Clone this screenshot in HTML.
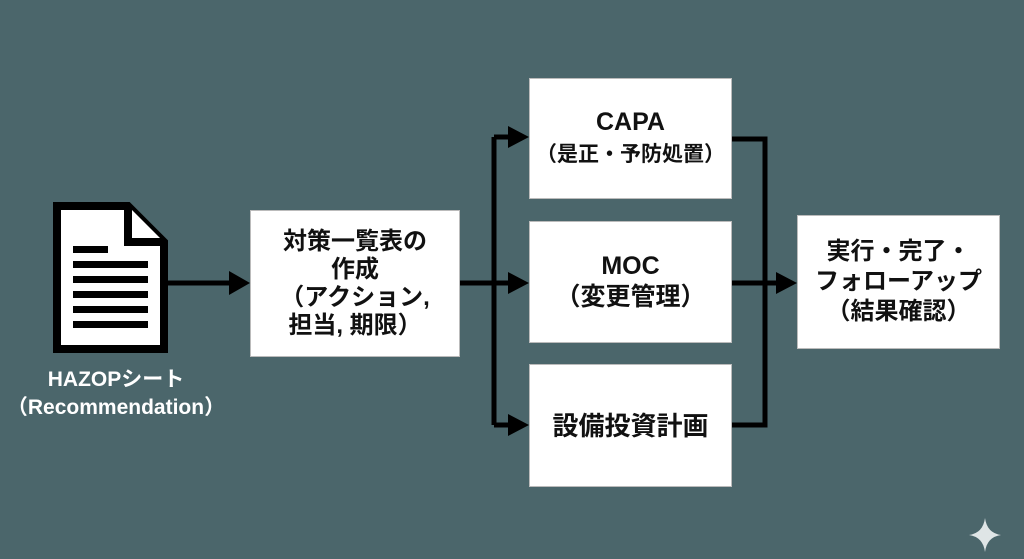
<!DOCTYPE html>
<html><head><meta charset="utf-8"><style>
body{margin:0;width:1024px;height:559px;background:#4b666b;overflow:hidden;position:relative;font-family:"Liberation Sans","Noto Sans CJK JP",sans-serif;font-weight:bold;color:#111}
.b{position:absolute;background:#fff;border:1px solid #bbb;box-sizing:border-box;display:flex;align-items:center;justify-content:center;text-align:center;font-size:24px;line-height:28px;white-space:nowrap}
.l{position:absolute;color:#fff;text-align:center;font-size:21px;line-height:28px}
</style></head><body>
<svg width="1024" height="559" style="position:absolute;left:0;top:0">
<g stroke="#000" stroke-width="5" fill="none">
<path d="M168,283H232"/>
<path d="M460,283H494"/>
<path d="M494,137V425"/>
<path d="M494,137H512M494,283H512M494,425H512"/>
<path d="M732,139H765V425H732M732,283H780"/>
</g>
<g fill="#000">
<path d="M229,271L250,283L229,295z"/>
<path d="M508,126L529,137L508,148z"/>
<path d="M508,272L529,283L508,294z"/>
<path d="M508,414L529,425L508,436z"/>
<path d="M776,272L797,283L776,294z"/>
</g>
<path d="M57,206H128L164,242V349H57z" fill="#fff" stroke="#000" stroke-width="8"/>
<path d="M128,206V242H164" fill="#fff" stroke="#000" stroke-width="8"/>
<g fill="#000"><rect x="73" y="246" width="35" height="7"/><rect x="73" y="261" width="75" height="7"/><rect x="73" y="276" width="75" height="7"/><rect x="73" y="291" width="75" height="7"/><rect x="73" y="306" width="75" height="7"/><rect x="73" y="321" width="75" height="7"/></g>
<path d="M985,518Q987,533 1001,535Q987,537 985,552Q983,537 969,535Q983,533 985,518z" fill="#dfe5e6"/>
</svg>
<div class="l" style="left:4px;width:224px;top:366px">HAZOPシート<br>（Recommendation）</div>
<div class="b" style="left:250px;top:210px;width:210px;height:147px">対策一覧表の<br>作成<br>（アクション,<br>担当, 期限）</div>
<div class="b" style="left:529px;top:78px;width:203px;height:121px;font-size:25px;line-height:31px"><div>CAPA<br><span style="font-size:21px">（是正・予防処置）</span></div></div>
<div class="b" style="left:529px;top:221px;width:203px;height:122px;font-size:25px;line-height:31px">MOC<br>（変更管理）</div>
<div class="b" style="left:529px;top:364px;width:203px;height:123px;font-size:26px">設備投資計画</div>
<div class="b" style="left:797px;top:215px;width:203px;height:134px;font-size:24px;line-height:30px">実行・完了・<br>フォローアップ<br>（結果確認）</div>
</body></html>
